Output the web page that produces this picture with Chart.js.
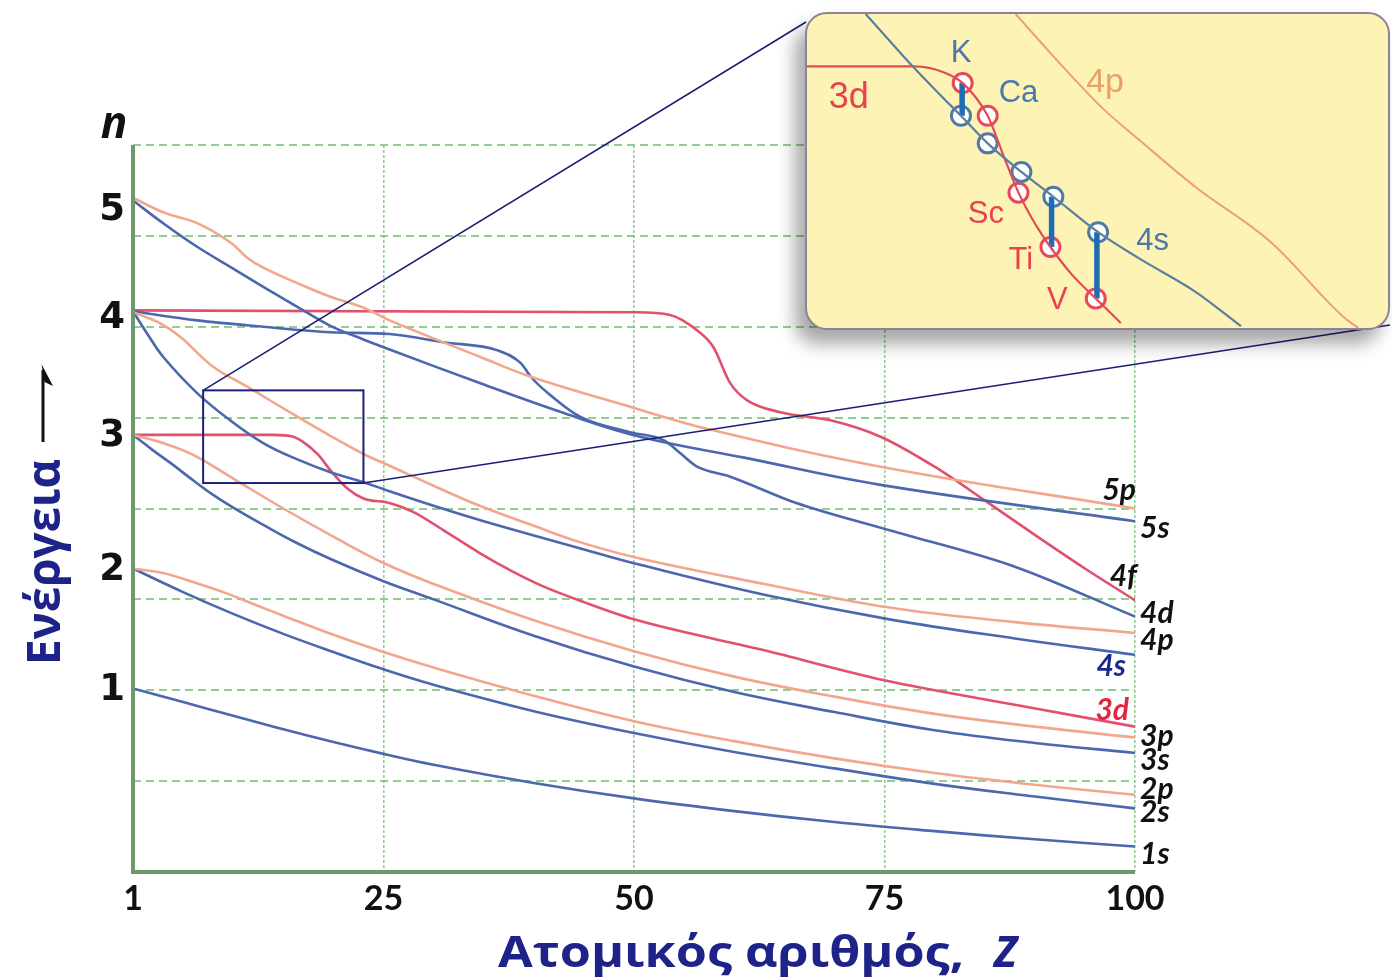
<!DOCTYPE html>
<html>
<head>
<meta charset="utf-8">
<script src="https://cdn.jsdelivr.net/npm/chart.js@4.4.1/dist/chart.umd.min.js"></script>
<style>
  body { margin: 0; background: #fff; }
  #wrap { position: relative; width: 1392px; height: 980px; }
  #inset {
    position: absolute; left: 805px; top: 12px; width: 585px; height: 318px;
    box-sizing: border-box; border: 2px solid #8e8298; border-radius: 22px;
    background: #fdf3b4; overflow: hidden;
    box-shadow: -10px 14px 18px rgba(0, 0, 0, 0.35);
  }
  #zoom { display: block; }
</style>
</head>
<body>
<div id="wrap">
  <canvas id="main" width="1392" height="980"></canvas>
  <div id="inset"><canvas id="zoom" width="581" height="314"></canvas></div>
</div>
<script>
// axis ticks
const zTicks = [0, 25, 50, 75, 100];
const zTickLabels = ['1', '25', '50', '75', '100'];
const nLevels = [2.00, 3.32, 4.79, 6.09, 7.28];
const nLabels = ['1', '2', '3', '4', '5'];
const gridLevels = [0, 1, 2, 3, 4, 5, 6, 7, 8];

// orbital energies (Z, energy)
const z1s = [0, 5, 10, 15, 20, 25, 30, 40, 50, 60, 70, 80, 90, 100];
const e1s = [2.02, 1.87, 1.72, 1.57, 1.43, 1.30, 1.18, 0.98, 0.81, 0.67, 0.55, 0.45, 0.36, 0.28];

const z2s = [0, 5, 10, 15, 20, 25, 30, 40, 50, 60, 70, 80, 90, 100];
const e2s = [3.34, 3.08, 2.84, 2.62, 2.42, 2.23, 2.06, 1.77, 1.53, 1.32, 1.14, 0.97, 0.83, 0.70];

const z2p = [0, 3, 6, 9, 12, 15, 20, 25, 30, 40, 50, 60, 70, 80, 90, 100];
const e2p = [3.34, 3.29, 3.19, 3.08, 2.95, 2.82, 2.61, 2.42, 2.25, 1.94, 1.66, 1.44, 1.25, 1.09, 0.96, 0.85];

const z3s = [0, 2, 4, 6, 8, 10, 13, 16, 20, 25, 30, 40, 50, 60, 70, 80, 90, 100];
const e3s = [4.81, 4.64, 4.48, 4.31, 4.15, 4.01, 3.82, 3.64, 3.43, 3.20, 3.00, 2.60, 2.26, 1.98, 1.76, 1.56, 1.42, 1.31];

const z3p = [0, 3, 6, 10, 15, 20, 25, 30, 40, 50, 60, 70, 80, 90, 100];
const e3p = [4.81, 4.72, 4.59, 4.33, 4.00, 3.69, 3.40, 3.17, 2.77, 2.43, 2.15, 1.93, 1.74, 1.60, 1.48];

const z3d = [0, 10, 14, 16, 17, 18.5, 19.7, 21.4, 23, 25.6, 28, 31, 34.6, 38, 41, 45, 50, 63, 75, 88, 100];
const e3d = [4.81, 4.81, 4.81, 4.79, 4.73, 4.59, 4.42, 4.22, 4.11, 4.06, 3.96, 3.76, 3.51, 3.30, 3.14, 2.97, 2.78, 2.44, 2.11, 1.84, 1.60];

const z4s = [0, 1.5, 3, 6.4, 9.7, 13, 16.4, 19.7, 23, 25.6, 30, 35, 45, 50.6, 63, 75.5, 88, 100];
const e4s = [6.17, 5.91, 5.67, 5.27, 4.97, 4.72, 4.54, 4.40, 4.29, 4.19, 4.03, 3.86, 3.55, 3.38, 3.05, 2.78, 2.57, 2.39];

const z4p = [0, 2.5, 4.7, 8, 11.4, 16.4, 20, 23, 25.6, 30, 34.6, 40, 44.6, 50.6, 63, 75.5, 88, 100];
const e4p = [6.16, 6.05, 5.89, 5.56, 5.34, 5.01, 4.78, 4.60, 4.47, 4.25, 4.03, 3.81, 3.63, 3.45, 3.17, 2.91, 2.75, 2.63];

const z4d = [0, 6.4, 13, 19.7, 25.6, 31, 36.4, 38.7, 39.7, 41.4, 44.6, 49.6, 53, 54.6, 56.3, 59.6, 66.2, 75.5, 88, 100];
const e4d = [6.17, 6.07, 6.00, 5.94, 5.92, 5.83, 5.74, 5.60, 5.45, 5.27, 5.01, 4.84, 4.75, 4.61, 4.46, 4.35, 4.06, 3.76, 3.36, 2.81];

const z4f = [0, 50, 53.6, 56.3, 57.9, 59.6, 61.3, 64.6, 69.6, 74.6, 80, 85, 90, 95, 100];
const e4f = [6.18, 6.16, 6.13, 5.96, 5.78, 5.38, 5.19, 5.06, 4.97, 4.79, 4.46, 4.09, 3.71, 3.34, 2.99];

const z5s = [0, 3, 6.4, 9.7, 13, 16.4, 19.7, 23, 25.6, 34.6, 43, 50.6, 61, 74.6, 100];
const e5s = [7.39, 7.14, 6.88, 6.66, 6.44, 6.22, 6.01, 5.86, 5.75, 5.38, 5.05, 4.79, 4.56, 4.26, 3.86];

const z5p = [0, 3, 6.4, 9.7, 11.4, 13, 16.4, 19.7, 23, 25.6, 34.6, 39.7, 49.6, 57.9, 74.6, 100];
const e5p = [7.42, 7.26, 7.14, 6.93, 6.76, 6.65, 6.48, 6.33, 6.21, 6.07, 5.67, 5.45, 5.12, 4.86, 4.46, 4.00];

// curve end labels
const labelNames = ['5p', '5s', '4f', '4d', '4p', '4s', '3d', '3p', '3s', '2p', '2s', '1s'];
const labelE = [4.20, 3.78, 3.25, 2.85, 2.55, 2.26, 1.78, 1.49, 1.23, 0.91, 0.66, 0.19];

// magnified region
const boxZ = [7, 23];
const boxE = [4.28, 5.30];

// inset (local units 0..10)
const inX3d = [0, 1.85, 2.36, 2.68, 3.11, 3.38, 3.64, 3.90, 4.19, 4.56, 4.97, 5.40];
const inE3d = [8.33, 8.33, 8.14, 7.80, 6.76, 5.50, 4.31, 3.40, 2.58, 1.70, 0.94, 0.16];
const inX4s = [1.01, 1.85, 2.31, 2.65, 3.11, 3.69, 4.24, 5.01, 5.73, 6.68, 7.47];
const inE4s = [10.0, 8.27, 7.39, 6.76, 5.88, 4.97, 4.18, 3.05, 2.20, 1.16, 0.06];
const inX4p = [3.59, 4.43, 5.08, 5.73, 6.68, 7.98, 9.26, 9.49];
const inE4p = [10.0, 8.27, 7.01, 5.97, 4.50, 2.74, 0.31, 0];
const redX = [2.68, 3.11, 3.64, 4.19, 4.97];
const redE = [7.80, 6.76, 4.31, 2.58, 0.94];
const blueX = [2.65, 3.11, 3.69, 4.24, 5.01];
const blueE = [6.76, 5.88, 4.97, 4.18, 3.05];
const barX = [2.67, 4.21, 4.99];
const barTop = [7.80, 4.18, 3.05];
const barBottom = [6.76, 2.58, 0.94];
const insetText = ['K', 'Ca', '3d', '4p', 'Sc', 'Ti', 'V', '4s'];
const insetTextX = [2.65, 3.64, 0.72, 5.13, 3.08, 3.68, 4.31, 5.95];
const insetTextY = [8.74, 7.48, 7.33, 7.80, 3.62, 2.14, 0.88, 2.77];

const BLUE = '#4b67ad', SALMON = '#f3a68e', RED = '#e3506c';
const GRID = 'rgba(110, 190, 110, 0.75)';
const NAVY = '#1d2388';

function pts(z, e) { return z.map((v, i) => ({ x: v, y: e[i] })); }
function curve(z, e, color) {
  return { data: pts(z, e), borderColor: color, borderWidth: 2.6, pointRadius: 0, tension: 0.4, fill: false };
}
function stepCurve(z, e, color) {
  return { data: pts(z, e), borderColor: color, borderWidth: 2.6, pointRadius: 0,
           cubicInterpolationMode: 'monotone', fill: false };
}

// draw text squeezed/stretched to a given width
function fitText(ctx, text, x, y, width) {
  const w = ctx.measureText(text).width;
  ctx.save();
  ctx.translate(x, y);
  ctx.scale(width / w, 1);
  ctx.fillText(text, 0, 0);
  ctx.restore();
}

const decor = {
  id: 'decor',
  afterDatasetsDraw(chart) {
    const { ctx, chartArea: a, scales } = chart;
    const xs = scales.x, ys = scales.y;
    ctx.save();
    ctx.setLineDash([]);
    // solid left / bottom frame
    ctx.strokeStyle = '#6c9a6c';
    ctx.lineWidth = 4;
    ctx.beginPath();
    ctx.moveTo(a.left, a.top); ctx.lineTo(a.left, a.bottom); ctx.lineTo(a.right, a.bottom);
    ctx.stroke();

    // zoom box + connectors
    const bx0 = xs.getPixelForValue(boxZ[0]), bx1 = xs.getPixelForValue(boxZ[1]);
    const by0 = ys.getPixelForValue(boxE[1]), by1 = ys.getPixelForValue(boxE[0]);
    ctx.strokeStyle = '#1b1f78';
    ctx.lineWidth = 2;
    ctx.strokeRect(bx0, by0, bx1 - bx0, by1 - by0);
    ctx.lineWidth = 1.6;
    ctx.beginPath();
    ctx.moveTo(bx0, by0); ctx.lineTo(806, 22);
    ctx.moveTo(bx1, by1); ctx.lineTo(1390, 325);
    ctx.stroke();

    // curve labels
    const leftSide = { '5p': 1, '4f': 2, '4s': -9, '3d': -6 };
    const colors = { '4s': '#1b2a8f', '3d': '#e3263f' };
    ctx.font = 'italic bold 30px Lato';
    ctx.textBaseline = 'middle';
    const xEnd = xs.getPixelForValue(100);
    labelNames.forEach((name, i) => {
      const y = ys.getPixelForValue(labelE[i]);
      ctx.fillStyle = colors[name] || '#111';
      if (name in leftSide) {
        ctx.textAlign = 'right';
        ctx.fillText(name, xEnd + leftSide[name], y);
      } else {
        ctx.textAlign = 'left';
        ctx.fillText(name, xEnd + 5, y);
      }
    });
    ctx.restore();
  },
  afterDraw(chart) {
    const ctx = chart.ctx;
    ctx.save();
    // n
    ctx.fillStyle = '#111';
    ctx.font = 'italic bold 44px "Open Sans"';
    ctx.textAlign = 'center';
    ctx.textBaseline = 'alphabetic';
    ctx.fillText('n', 114, 138);

    // y title
    ctx.save();
    ctx.translate(60, 665);
    ctx.rotate(-Math.PI / 2);
    ctx.fillStyle = NAVY;
    ctx.textAlign = 'left';
    ctx.font = 'bold 46px "Open Sans"';
    fitText(ctx, 'Ενέργεια', 0, 0, 206);
    ctx.restore();

    // arrow
    ctx.strokeStyle = '#111';
    ctx.lineWidth = 3;
    ctx.beginPath(); ctx.moveTo(43, 442); ctx.lineTo(43, 370); ctx.stroke();
    ctx.fillStyle = '#111';
    ctx.beginPath(); ctx.moveTo(41.5, 364); ctx.lineTo(53, 386); ctx.lineTo(44.5, 382); ctx.closePath(); ctx.fill();

    // x title
    ctx.fillStyle = NAVY;
    ctx.textAlign = 'left';
    ctx.font = 'bold 43px "Open Sans"';
    fitText(ctx, 'Ατομικός αριθμός,', 498, 967, 466);
    ctx.font = 'italic bold 43px "Open Sans"';
    ctx.fillText('Z', 994, 967);
    ctx.restore();
  }
};

new Chart(document.getElementById('main'), {
  type: 'line',
  data: {
    datasets: [
      curve(z2p, e2p, SALMON), curve(z3p, e3p, SALMON), curve(z4p, e4p, SALMON), curve(z5p, e5p, SALMON),
      curve(z1s, e1s, BLUE), curve(z2s, e2s, BLUE), curve(z3s, e3s, BLUE), curve(z4s, e4s, BLUE),
      stepCurve(z4d, e4d, BLUE), curve(z5s, e5s, BLUE),
      stepCurve(z3d, e3d, RED), stepCurve(z4f, e4f, RED)
    ]
  },
  options: {
    responsive: false,
    animation: false,
    devicePixelRatio: 1,
    events: [],
    layout: { autoPadding: false, padding: { left: 0, top: 145, right: 257, bottom: 0 } },
    plugins: { legend: { display: false }, tooltip: { enabled: false } },
    scales: {
      x: {
        type: 'linear', min: 0, max: 100,
        afterBuildTicks: s => { s.ticks = zTicks.map(v => ({ value: v })); },
        afterFit: s => { s.height = 108; },
        ticks: { callback: (v, i) => zTickLabels[i], autoSkip: false, maxRotation: 0, padding: 7,
                 color: '#111', font: { family: 'Lato', weight: 'bold', size: 34 } },
        grid: { color: GRID, lineWidth: 1.6, drawTicks: false },
        border: { display: false, dash: [3, 2] }
      },
      y: {
        min: 0, max: 8,
        afterBuildTicks: s => { s.ticks = gridLevels.map(v => ({ value: v })); },
        afterFit: s => { s.width = 0; },
        ticks: { display: false },
        grid: { color: GRID, lineWidth: 2, drawTicks: false },
        border: { display: false, dash: [8, 5] }
      },
      yn: {
        position: 'left', min: 0, max: 8,
        afterBuildTicks: s => { s.ticks = nLevels.map(v => ({ value: v })); },
        afterFit: s => { s.width = 133; },
        ticks: { callback: (v, i) => nLabels[i], padding: 8, color: '#111',
                 font: { family: 'DejaVu Sans', weight: 'bold', size: 37 } },
        grid: { display: false, drawTicks: false },
        border: { display: false }
      }
    }
  },
  plugins: [decor]
});

// inset
const insetLabels = {
  id: 'insetLabels',
  afterDatasetsDraw(chart) {
    const { ctx, scales } = chart;
    const colors = { K: '#4a78ad', Ca: '#4a78ad', '4s': '#4a78ad', '4p': '#eb9f6a' };
    const sizes = { '3d': 36, '4p': 34 };
    ctx.save();
    ctx.textAlign = 'center';
    ctx.textBaseline = 'middle';
    insetText.forEach((t, i) => {
      ctx.fillStyle = colors[t] || '#e8424f';
      ctx.font = (sizes[t] || 31) + 'px "Liberation Sans"';
      ctx.fillText(t, scales.x.getPixelForValue(insetTextX[i]), scales.y.getPixelForValue(insetTextY[i]));
    });
    ctx.restore();
  }
};

function inLine(x, e, color, w) {
  return { data: pts(x, e), borderColor: color, borderWidth: w, pointRadius: 0,
           cubicInterpolationMode: 'monotone', fill: false };
}
function inDots(x, e, color) {
  return { type: 'scatter', data: pts(x, e), pointStyle: 'circle', pointRadius: 9.5, borderWidth: 3,
           backgroundColor: '#ffffff', borderColor: color };
}
const barSets = barX.map((x, i) => ({
  data: [{ x: x, y: barTop[i] }, { x: x, y: barBottom[i] }],
  borderColor: '#1c6db5', borderWidth: 5.5, pointRadius: 0
}));

new Chart(document.getElementById('zoom'), {
  type: 'line',
  data: {
    datasets: [
      inLine(inX4p, inE4p, '#eda070', 2),
      inLine(inX4s, inE4s, '#5a7f9f', 2.2),
      inLine(inX3d, inE3d, '#e34a55', 2.2),
      ...barSets,
      inDots(blueX, blueE, '#4f7aa8'),
      inDots(redX, redE, '#e8485a')
    ]
  },
  options: {
    responsive: false,
    animation: false,
    devicePixelRatio: 1,
    events: [],
    layout: { autoPadding: false, padding: 0 },
    plugins: { legend: { display: false }, tooltip: { enabled: false } },
    scales: {
      x: { type: 'linear', min: 0, max: 10, display: false },
      y: { min: 0, max: 10, display: false }
    }
  },
  plugins: [insetLabels]
});
</script>
</body>
</html>
